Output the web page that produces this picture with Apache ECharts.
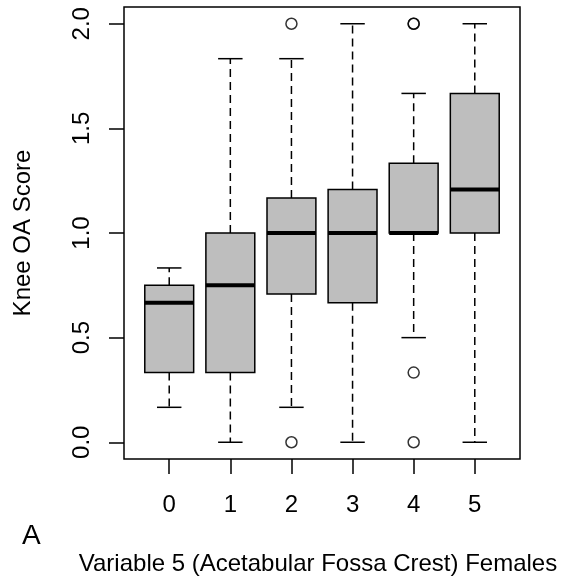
<!DOCTYPE html>
<html>
<head>
<meta charset="utf-8">
<title>Variable 5 (Acetabular Fossa Crest) Females</title>
<script src="https://cdn.jsdelivr.net/npm/echarts@6/dist/echarts.min.js"></script>
<style>
  html, body { margin: 0; padding: 0; background: #fff; }
  #chart { width: 569px; height: 581px; }
</style>
</head>
<body>
<div id="chart"></div>
<script>
// data
const categories = ['0', '1', '2', '3', '4', '5'];
const lowWhisker = [0.167, 0, 0.167, 0, 0.5, 0];
const q1 = [0.333, 0.333, 0.708, 0.667, 1.0, 1.0];
const median = [0.667, 0.75, 1.0, 1.0, 1.0, 1.208];
const q3 = [0.75, 1.0, 1.167, 1.208, 1.333, 1.667];
const highWhisker = [0.833, 1.833, 1.833, 2.0, 1.667, 2.0];
// outliers: [group index, value]
const outliers = [[2, 2.0], [2, 0], [4, 2.0], [4, 2.0], [4, 0.333], [4, 0]];
const yTicks = [0, 0.5, 1.0, 1.5, 2.0];

const font = 'Liberation Sans, Arial, Helvetica, sans-serif';
const chart = echarts.init(document.getElementById('chart'));

const boxData = categories.map((c, i) => [i, lowWhisker[i], q1[i], median[i], q3[i], highWhisker[i]]);

// R style box: dashed whiskers, grey box, thick median
function renderBox(params, api) {
  const x = api.value(0);
  const pLow = api.coord([x, api.value(1)]);
  const pQ1 = api.coord([x, api.value(2)]);
  const pMed = api.coord([x, api.value(3)]);
  const pQ3 = api.coord([x, api.value(4)]);
  const pHigh = api.coord([x, api.value(5)]);
  const w = api.size([0.8, 0])[0];
  const cx = pMed[0];
  const capW = w / 2;
  const solid = { stroke: '#000', lineWidth: 1.5 };
  const dashed = { stroke: '#000', lineWidth: 1.5, lineDash: [8, 5] };
  return {
    type: 'group',
    children: [
      { type: 'line', shape: { x1: cx, y1: pQ3[1], x2: cx, y2: pHigh[1] }, style: dashed },
      { type: 'line', shape: { x1: cx, y1: pQ1[1], x2: cx, y2: pLow[1] }, style: dashed },
      { type: 'line', shape: { x1: cx - capW / 2, y1: pHigh[1], x2: cx + capW / 2, y2: pHigh[1] }, style: solid },
      { type: 'line', shape: { x1: cx - capW / 2, y1: pLow[1], x2: cx + capW / 2, y2: pLow[1] }, style: solid },
      { type: 'rect', shape: { x: cx - w / 2, y: pQ3[1], width: w, height: pQ1[1] - pQ3[1] },
        style: { fill: '#bebebe', stroke: '#000', lineWidth: 1.5 } },
      { type: 'line', shape: { x1: cx - w / 2, y1: pMed[1], x2: cx + w / 2, y2: pMed[1] },
        style: { stroke: '#000', lineWidth: 4 } }
    ]
  };
}

const option = {
  backgroundColor: '#fff',
  animation: false,
  grid: {
    left: 124, right: 49, top: 7, bottom: 122,
    show: true, borderColor: '#000', borderWidth: 1.5, backgroundColor: 'transparent'
  },
  xAxis: {
    type: 'value',
    min: -0.74, max: 5.74,
    axisLine: { show: false, onZero: false },
    splitLine: { show: false },
    axisTick: { show: true, length: 15, customValues: categories.map((c, i) => i),
      lineStyle: { color: '#000', width: 1.5 } },
    axisLabel: {
      customValues: categories.map((c, i) => i),
      formatter: v => categories[Math.round(v)],
      margin: 34, fontSize: 24, color: '#000', fontFamily: font
    }
  },
  yAxis: {
    type: 'value',
    min: -0.08, max: 2.08,
    name: 'Knee OA Score',
    nameLocation: 'middle',
    nameRotate: 90,
    nameGap: 89,
    nameTextStyle: { fontSize: 24, color: '#000', fontFamily: font },
    axisLine: { show: false, onZero: false },
    splitLine: { show: false },
    axisTick: { show: true, length: 15, customValues: yTicks,
      lineStyle: { color: '#000', width: 1.5 } },
    axisLabel: {
      customValues: yTicks,
      rotate: 90,
      formatter: v => v.toFixed(1),
      margin: 30, fontSize: 24, color: '#000', fontFamily: font
    }
  },
  graphic: [
    { type: 'text', left: 22, top: 522, style: { text: 'A', fontSize: 28, fill: '#000', fontFamily: font } },
    { type: 'text', x: 318, y: 564,
      style: { text: 'Variable 5 (Acetabular Fossa Crest) Females', fontSize: 24, fill: '#000',
        fontFamily: font, align: 'center', verticalAlign: 'middle' } }
  ],
  series: [
    {
      type: 'custom',
      renderItem: renderBox,
      data: boxData,
      encode: { x: 0, y: [1, 2, 3, 4, 5] },
      z: 2
    },
    {
      type: 'scatter',
      data: outliers,
      symbol: 'circle',
      symbolSize: 11,
      itemStyle: { color: 'rgba(0,0,0,0)', borderColor: '#000', borderWidth: 1.5 },
      z: 3
    }
  ]
};

chart.setOption(option);
</script>
</body>
</html>
